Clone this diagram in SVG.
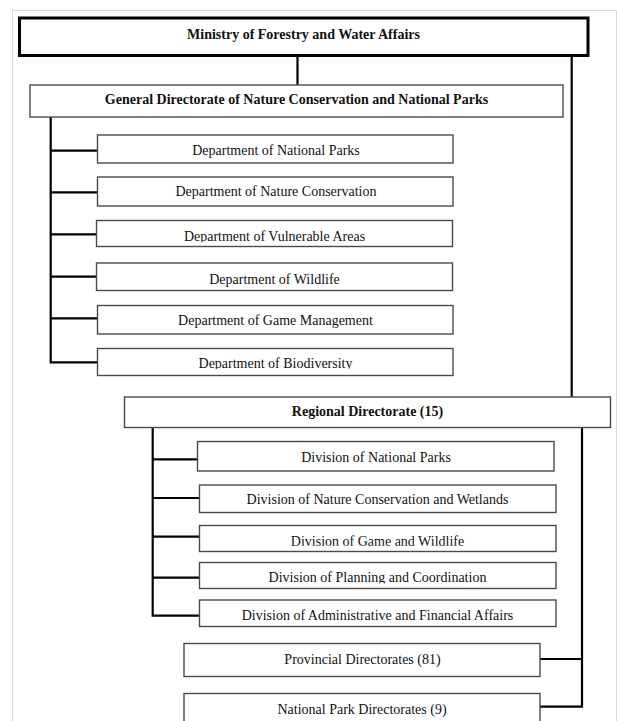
<svg xmlns="http://www.w3.org/2000/svg" width="617" height="721" viewBox="0 0 617 721">
  <style>
    .box { fill: #ffffff; stroke: #4a4a4a; stroke-width: 1.4; }
    .top { fill: #ffffff; stroke: #000000; stroke-width: 3; }
    .t { font-family: "Liberation Serif", "Times New Roman", serif; font-size: 14px; fill: #111111; text-anchor: middle; }
    .b { font-weight: bold; }
    .conn { fill: none; stroke: #000000; stroke-width: 2.2; stroke-linejoin: miter; }
    .frame { fill: none; stroke: #d9d9d9; stroke-width: 1; }
  </style>
  <defs>
    <clipPath id="c-d3"><rect x="96" y="220" width="357" height="22"/></clipPath>
    <clipPath id="c-d6"><rect x="97" y="348" width="357" height="21"/></clipPath>
    <clipPath id="c-v3"><rect x="199" y="525" width="357" height="20.7"/></clipPath>
    <clipPath id="c-v4"><rect x="199" y="562" width="357" height="21.5"/></clipPath>
  </defs>
  <rect x="0" y="0" width="617" height="721" fill="#ffffff"/>
  <path class="frame" d="M12.5,721 V10.5 H616.5 V721"/>

  <g id="connectors">
    <path class="conn" d="M297.5,56 V85"/>
    <path class="conn" d="M571.7,56 V397"/>
    <path class="conn" d="M50.7,117 V362.3 H97.5"/>
    <path class="conn" d="M50.7,150.7 H97.5 M50.7,192.3 H97.5 M50.7,234.3 H96.5 M50.7,276.7 H96.5 M50.7,318.3 H97.5"/>
    <path class="conn" d="M152.7,427.5 V615.7 H199.5"/>
    <path class="conn" d="M152.7,459.3 H197.5 M152.7,498 H199.5 M152.7,536.7 H199.5 M152.7,577.7 H199.5"/>
    <path class="conn" d="M582,427.5 V706.7 H540"/>
    <path class="conn" d="M540,659 H582"/>
  </g>

  <g id="ministry">
    <rect class="top" x="19.5" y="18" width="568.5" height="37.5"/>
    <text class="t b" x="303.5" y="38.5">Ministry of Forestry and Water Affairs</text>
  </g>
  <g id="general-directorate">
    <rect class="box" x="30" y="85" width="533" height="32"/>
    <text class="t b" x="296.5" y="104">General Directorate of Nature Conservation and National Parks</text>
  </g>
  <g id="dept-national-parks">
    <rect class="box" x="97.5" y="135" width="355.5" height="28"/>
    <text class="t" x="276" y="155">Department of National Parks</text>
  </g>
  <g id="dept-nature-conservation">
    <rect class="box" x="97.5" y="177" width="355.5" height="29"/>
    <text class="t" x="276" y="196">Department of Nature Conservation</text>
  </g>
  <g id="dept-vulnerable-areas">
    <rect class="box" x="96.5" y="220.5" width="356" height="26"/>
    <text class="t" x="274.5" y="240.5" clip-path="url(#c-d3)">Department of Vulnerable Areas</text>
  </g>
  <g id="dept-wildlife">
    <rect class="box" x="96.5" y="263" width="356" height="27.5"/>
    <text class="t" x="274.5" y="283.5">Department of Wildlife</text>
  </g>
  <g id="dept-game-management">
    <rect class="box" x="97.5" y="305.5" width="355.5" height="28.5"/>
    <text class="t" x="275.5" y="325.3">Department of Game Management</text>
  </g>
  <g id="dept-biodiversity">
    <rect class="box" x="97.5" y="348.5" width="355.5" height="27"/>
    <text class="t" x="275.5" y="367.5" clip-path="url(#c-d6)">Department of Biodiversity</text>
  </g>

  <g id="regional-directorate">
    <rect class="box" x="124.5" y="397" width="486" height="30.5"/>
    <text class="t b" x="367.5" y="416">Regional Directorate (15)</text>
  </g>
  <g id="div-national-parks">
    <rect class="box" x="197.5" y="441.5" width="356.5" height="29.5"/>
    <text class="t" x="376" y="461.7">Division of National Parks</text>
  </g>
  <g id="div-nature-wetlands">
    <rect class="box" x="199.5" y="485" width="356.5" height="27.5"/>
    <text class="t" x="377.5" y="504">Division of Nature Conservation and Wetlands</text>
  </g>
  <g id="div-game-wildlife">
    <rect class="box" x="199.5" y="525.5" width="356.5" height="26"/>
    <text class="t" x="377.5" y="545.5" clip-path="url(#c-v3)">Division of Game and Wildlife</text>
  </g>
  <g id="div-planning">
    <rect class="box" x="199.5" y="562.5" width="356.5" height="26"/>
    <text class="t" x="377.5" y="582.2" clip-path="url(#c-v4)">Division of Planning and Coordination</text>
  </g>
  <g id="div-admin-finance">
    <rect class="box" x="199.5" y="600" width="356.5" height="26.5"/>
    <text class="t" x="377.5" y="620">Division of Administrative and Financial Affairs</text>
  </g>
  <g id="provincial-directorates">
    <rect class="box" x="184" y="643.5" width="356" height="33"/>
    <text class="t" x="362.5" y="664">Provincial Directorates (81)</text>
  </g>
  <g id="national-park-directorates">
    <rect class="box" x="184" y="693.5" width="356" height="40"/>
    <text class="t" x="362" y="713.7">National Park Directorates (9)</text>
  </g>
</svg>
